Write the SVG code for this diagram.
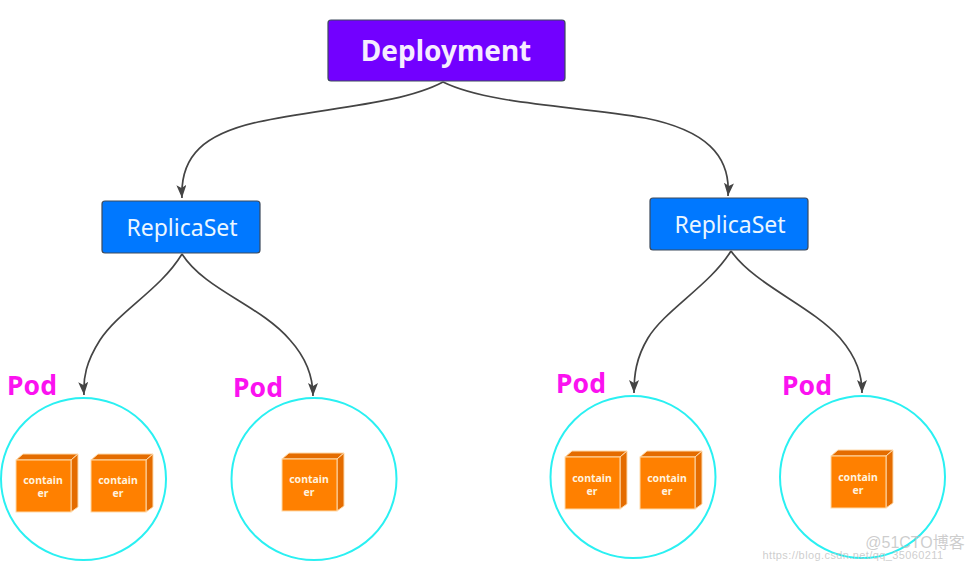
<svg xmlns="http://www.w3.org/2000/svg" width="974" height="562" viewBox="0 0 974 562">
<style>
text{font-family:"Noto Sans","Open Sans","Liberation Sans",sans-serif;text-anchor:middle}
.box{stroke:#3d4a5c;stroke-width:1.2}
.pod{fill:none;stroke:#2af0f2;stroke-width:2}
.lbl{fill:#fb12f0;font-size:26.500px;font-weight:700}
.rs{fill:#eaf6ff;font-size:23px}
.ct{fill:#fff2df;font-size:10.500px;font-weight:700}
.edge{fill:none;stroke:#444;stroke-width:1.7}
.f{fill:#ff8000;stroke:#ffd9a8;stroke-width:1}
.d{fill:#e46c00;stroke:#ffd9a8;stroke-width:1}
.wm{fill:#bdbdbd;fill-opacity:.75;font-family:"Liberation Sans","Noto Sans CJK SC",sans-serif}
</style>
<defs>
<marker id="arrow" markerUnits="userSpaceOnUse" markerWidth="14" markerHeight="10" refX="13" refY="5" orient="auto" viewBox="0 0 14 10"><path d="M0,0 L13,5 L0,10 L3,5 Z" fill="#444"/></marker>
<g id="cube">
<path class="d" d="M0,6 L7,0 H62 L55,6 Z"/>
<path class="d" d="M55,6 L62,0 V53 L55,58 Z"/>
<rect class="f" x="0" y="6" width="55" height="52"/>
</g>
</defs>
<g id="connectors">
<path class="edge" marker-end="url(#arrow)" d="M443,82 C400,105 320,108 258,122 C205,134 180,155 182,198"/>
<path class="edge" marker-end="url(#arrow)" d="M443,82 C490,105 580,106 645,118 C705,130 731,155 728,196"/>
<path class="edge" marker-end="url(#arrow)" d="M182,254 C160,290 120,310 100,340 C86,362 83,378 84,395"/>
<path class="edge" marker-end="url(#arrow)" d="M182,254 C205,290 260,305 290,340 C308,360 313,378 313,396"/>
<path class="edge" marker-end="url(#arrow)" d="M731,251 C710,285 665,310 648,338 C636,358 634,375 634,393"/>
<path class="edge" marker-end="url(#arrow)" d="M731,251 C755,285 810,305 840,338 C857,358 862,375 862,393"/>
</g>
<g id="deployment"><rect class="box" x="328" y="20" width="237" height="61" rx="3" fill="#7200ff"/><text x="446" y="61" font-size="28" font-weight="700" fill="#f6ecff">Deployment</text></g>
<g id="replicaset-left"><rect class="box" x="102" y="201" width="158" height="52" rx="3" fill="#0078ff"/><text class="rs" x="182" y="236">ReplicaSet</text></g>
<g id="replicaset-right"><rect class="box" x="650" y="198" width="158" height="52" rx="3" fill="#0078ff"/><text class="rs" x="730" y="233">ReplicaSet</text></g>
<g id="pod-1">
<ellipse class="pod" cx="83.500" cy="479" rx="82.500" ry="81"/>
<text class="lbl" x="32" y="395">Pod</text>
<use href="#cube" x="16" y="454"/><text class="ct" x="43" y="484">contain</text><text class="ct" x="43" y="497">er</text>
<use href="#cube" x="91" y="454"/><text class="ct" x="118" y="484">contain</text><text class="ct" x="118" y="497">er</text>
</g>
<g id="pod-2">
<ellipse class="pod" cx="314" cy="479" rx="82.500" ry="81"/>
<text class="lbl" x="258" y="397">Pod</text>
<use href="#cube" x="282" y="453"/><text class="ct" x="309" y="483">contain</text><text class="ct" x="309" y="496">er</text>
</g>
<g id="pod-3">
<ellipse class="pod" cx="633" cy="477" rx="82.500" ry="81"/>
<text class="lbl" x="581" y="393">Pod</text>
<use href="#cube" x="565" y="451"/><text class="ct" x="592" y="482">contain</text><text class="ct" x="592" y="495">er</text>
<use href="#cube" x="640" y="451"/><text class="ct" x="667" y="482">contain</text><text class="ct" x="667" y="495">er</text>
</g>
<g id="pod-4">
<ellipse class="pod" cx="862.500" cy="477" rx="82.500" ry="81"/>
<text class="lbl" x="807" y="395">Pod</text>
<use href="#cube" x="831" y="450"/><text class="ct" x="858" y="481">contain</text><text class="ct" x="858" y="494">er</text>
</g>
<g id="watermark">
<text class="wm" x="853" y="559" font-size="11" letter-spacing=".4">https://blog.csdn.net/qq_35060211</text>
<text class="wm" x="915" y="548" font-size="16">@51CTO博客</text>
</g>
</svg>
